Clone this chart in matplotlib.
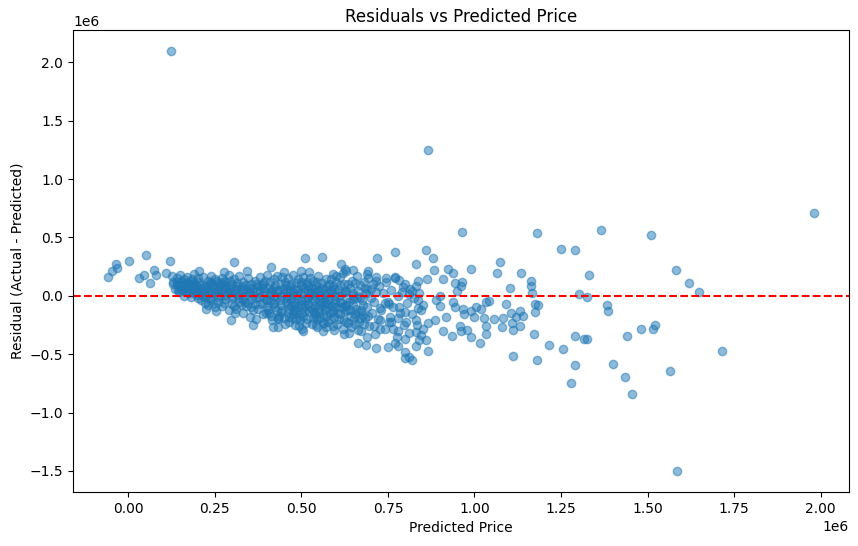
import numpy as np
import matplotlib
matplotlib.use("Agg")
import matplotlib.pyplot as plt

# (predicted, residual) pairs, both in units of 1e6

# far outliers
outliers = [(0.122, 2.096), (0.867, 1.245), (1.98, 0.707), (1.585, -1.50),
            (1.715, -0.474), (1.566, -0.64), (1.455, -0.84), (1.435, -0.695),
            (1.28, -0.745)]

# sparse points right of 1.0e6
right_tail = [(1.181, 0.535), (1.366, 0.563), (1.51, 0.521), (1.25, 0.398),
              (1.291, 0.392), (1.073, 0.286), (1.066, 0.192), (1.135, 0.192),
              (1.163, 0.126), (1.163, 0.083), (1.102, 0.063), (1.165, 0.02),
              (1.331, 0.175), (1.302, 0.015), (1.324, -0.014), (1.383, -0.08),
              (1.386, -0.131), (1.034, -0.051), (1.042, -0.045), (1.092, -0.071),
              (1.174, -0.071), (1.184, -0.08), (1.174, -0.142), (1.018, -0.117),
              (1.0, -0.18), (1.027, -0.188), (1.056, -0.202), (1.081, -0.188),
              (1.105, -0.151), (1.131, -0.131), (1.14, -0.171), (1.121, -0.18),
              (1.109, -0.237), (1.08, -0.266), (1.131, -0.257), (1.111, -0.294),
              (1.032, -0.26), (1.032, -0.323), (1.015, -0.4), (1.172, -0.323),
              (1.215, -0.417), (1.256, -0.457), (1.291, -0.343), (1.317, -0.366),
              (1.324, -0.371), (1.441, -0.346), (1.481, -0.288), (1.515, -0.288),
              (1.522, -0.254), (1.111, -0.517), (1.181, -0.551), (1.291, -0.594),
              (1.401, -0.58), (1.582, 0.22), (1.621, 0.111), (1.65, 0.034)]

# points between 0.7e6 and 1.0e6
mid_spread = [(0.964, 0.544), (0.769, 0.375), (0.718, 0.32), (0.861, 0.392),
              (0.88, 0.32), (0.832, 0.269), (0.613, 0.269), (0.625, 0.226),
              (0.62, 0.192), (0.691, 0.214), (0.689, 0.186), (0.883, 0.218),
              (0.922, 0.226), (0.938, 0.192), (0.989, 0.226), (0.965, 0.117),
              (0.943, 0.106), (0.863, 0.141), (0.836, 0.126), (0.769, 0.163),
              (0.783, 0.135), (0.793, 0.077), (0.745, 0.149), (0.716, 0.158),
              (0.812, 0.015), (0.836, -0.037), (0.851, -0.08), (0.836, -0.108),
              (0.89, -0.037), (0.899, -0.088), (0.938, -0.051), (0.943, -0.094),
              (0.967, -0.117), (0.991, -0.129), (1.005, -0.1), (0.918, -0.18),
              (0.885, -0.208), (0.865, -0.237), (0.832, -0.208), (0.803, -0.223),
              (0.779, -0.194), (0.754, -0.223), (0.726, -0.208), (0.711, -0.26),
              (0.726, -0.28), (0.764, -0.28), (0.909, -0.303), (0.936, -0.346),
              (0.977, -0.294), (0.991, -0.351), (0.957, -0.26), (0.832, -0.309),
              (0.846, -0.337), (0.861, -0.38), (0.798, -0.366), (0.769, -0.408),
              (0.75, -0.437), (0.716, -0.451), (0.687, -0.423), (0.663, -0.4),
              (0.504, -0.303), (0.624, -0.323), (0.595, -0.294), (0.562, -0.237),
              (0.634, -0.237), (0.677, -0.166), (0.726, -0.108), (0.754, -0.066),
              (0.783, -0.094), (0.542, -0.18), (0.465, -0.18), (0.509, 0.32),
              (0.865, -0.47), (0.83, -0.43), (0.80, -0.48), (0.81, -0.52),
              (0.82, -0.55), (0.80, -0.53), (0.78, -0.43), (0.96, 0.08),
              (0.95, 0.04), (0.90, 0.0), (0.91, 0.14), (0.97, -0.16), (0.96, -0.30)]

# upper edge and left end of the main cloud
left_edge = [(-0.058, 0.158), (-0.048, 0.214), (-0.036, 0.27), (-0.033, 0.235),
             (0.002, 0.295), (0.052, 0.349), (0.031, 0.149), (0.045, 0.178),
             (0.063, 0.106), (0.074, 0.22), (0.079, 0.178), (0.121, 0.295),
             (0.108, 0.192), (0.306, 0.286), (0.203, 0.212), (0.275, 0.20),
             (0.342, 0.212), (0.412, 0.244), (0.224, -0.117), (0.253, -0.129),
             (0.296, -0.208), (0.359, -0.254), (0.417, -0.271), (0.431, -0.266),
             (0.433, -0.186), (0.398, -0.151), (0.309, -0.146), (0.45, 0.2),
             (0.5, 0.21), (0.56, 0.33), (0.60, 0.17), (0.65, 0.22)]

band_a = [(0.125, 0.17), (0.13, 0.12), (0.135, 0.06), (0.14, 0.15), (0.14, 0.09),
          (0.145, 0.03), (0.15, 0.18), (0.15, 0.11), (0.155, 0.05), (0.16, 0.14),
          (0.16, 0.0), (0.165, 0.08), (0.17, 0.16), (0.17, 0.04), (0.175, 0.1),
          (0.18, 0.13), (0.18, -0.01), (0.185, 0.06), (0.19, 0.19), (0.19, 0.02),
          (0.195, 0.09), (0.2, 0.15), (0.2, -0.02), (0.13, 0.1), (0.15, 0.07),
          (0.17, 0.12), (0.19, 0.11), (0.14, 0.12), (0.16, 0.07), (0.18, 0.09),
          (0.2, 0.05), (0.155, 0.13), (0.175, 0.02), (0.195, 0.04), (0.165, 0.1),
          (0.185, 0.14)]

band_b = [(0.205, 0.12), (0.21, 0.03), (0.21, -0.04), (0.215, 0.16), (0.22, 0.08),
          (0.22, -0.06), (0.225, 0.01), (0.23, 0.13), (0.23, -0.08), (0.235, 0.05),
          (0.24, 0.17), (0.24, -0.02), (0.245, 0.09), (0.25, 0.14), (0.25, -0.1),
          (0.255, 0.04), (0.26, 0.11), (0.26, -0.05), (0.265, 0.0), (0.27, 0.15),
          (0.27, -0.09), (0.275, 0.07), (0.28, 0.12), (0.28, -0.03), (0.285, 0.02),
          (0.29, 0.18), (0.29, -0.12), (0.295, 0.06), (0.3, 0.1), (0.3, -0.07),
          (0.21, 0.07), (0.23, 0.09), (0.25, 0.02), (0.27, 0.1), (0.29, 0.03),
          (0.22, -0.01), (0.24, 0.12), (0.26, 0.06), (0.28, 0.08), (0.3, 0.0),
          (0.215, 0.0), (0.235, -0.04), (0.255, 0.13), (0.275, -0.06), (0.295, 0.13)]

band_c = [(0.305, 0.14), (0.31, 0.02), (0.31, -0.11), (0.315, 0.08), (0.32, 0.17),
          (0.32, -0.05), (0.325, 0.05), (0.33, 0.12), (0.33, -0.15), (0.335, 0.0),
          (0.34, 0.09), (0.34, -0.09), (0.345, 0.15), (0.35, 0.03), (0.35, -0.18),
          (0.355, 0.1), (0.36, 0.06), (0.36, -0.12), (0.365, 0.13), (0.37, -0.02),
          (0.37, -0.2), (0.375, 0.08), (0.38, 0.16), (0.38, -0.07), (0.385, 0.01),
          (0.39, 0.11), (0.39, -0.16), (0.395, 0.04), (0.4, 0.18), (0.4, -0.1),
          (0.405, 0.07), (0.41, 0.12), (0.41, -0.04), (0.415, -0.21), (0.42, 0.14),
          (0.42, 0.0), (0.425, 0.09), (0.43, 0.17), (0.43, -0.13), (0.435, 0.05),
          (0.44, 0.1), (0.44, -0.08), (0.445, 0.16), (0.45, 0.02), (0.45, -0.19),
          (0.31, 0.06), (0.33, -0.03), (0.35, 0.07), (0.37, 0.1), (0.39, -0.06),
          (0.41, 0.03), (0.43, -0.01), (0.32, -0.02), (0.34, 0.04), (0.36, 0.01),
          (0.38, 0.05), (0.4, -0.04), (0.42, 0.07), (0.44, 0.0), (0.315, 0.11),
          (0.345, -0.06), (0.375, -0.11), (0.405, -0.15), (0.435, -0.17)]

band_d = [(0.452, 0.12), (0.455, -0.05), (0.458, 0.04), (0.46, -0.15), (0.462, 0.15),
          (0.465, -0.22), (0.468, 0.08), (0.47, -0.09), (0.472, 0.01), (0.475, 0.18),
          (0.478, -0.12), (0.48, 0.06), (0.482, -0.25), (0.485, 0.11), (0.488, -0.03),
          (0.49, 0.14), (0.492, -0.18), (0.495, 0.02), (0.498, 0.09), (0.5, -0.07),
          (0.502, -0.28), (0.505, 0.16), (0.508, 0.03), (0.51, -0.13), (0.512, 0.1),
          (0.515, -0.2), (0.518, 0.05), (0.52, -0.01), (0.522, 0.2), (0.525, -0.1),
          (0.528, 0.07), (0.53, -0.24), (0.532, 0.13), (0.535, -0.04), (0.538, 0.0),
          (0.54, -0.16), (0.542, 0.09), (0.545, -0.27), (0.548, 0.17), (0.55, -0.08),
          (0.552, 0.04), (0.555, -0.19), (0.558, 0.11), (0.56, -0.02), (0.562, -0.3),
          (0.565, 0.06), (0.568, -0.12), (0.57, 0.14), (0.572, -0.06), (0.575, 0.02),
          (0.578, -0.22), (0.58, 0.1), (0.582, -0.15), (0.585, 0.05), (0.588, -0.09),
          (0.59, 0.19), (0.592, -0.26), (0.595, 0.0), (0.598, -0.04), (0.6, 0.12),
          (0.46, 0.0), (0.47, 0.1), (0.48, -0.06), (0.49, 0.05), (0.5, 0.12),
          (0.51, -0.04), (0.52, 0.08), (0.53, -0.11), (0.54, 0.03), (0.55, -0.14),
          (0.56, 0.07), (0.57, -0.17), (0.58, -0.03), (0.59, 0.08), (0.6, -0.1),
          (0.465, -0.11), (0.485, -0.14), (0.505, -0.17), (0.525, 0.15), (0.545, 0.12),
          (0.565, -0.23), (0.585, 0.14), (0.475, 0.03), (0.495, -0.21), (0.515, -0.02),
          (0.535, 0.06), (0.555, 0.0), (0.575, -0.1), (0.595, -0.18)]

band_e = [(0.605, 0.05), (0.608, -0.2), (0.612, 0.16), (0.615, -0.06), (0.618, 0.02),
          (0.62, -0.28), (0.623, 0.1), (0.626, -0.13), (0.63, 0.21), (0.633, -0.02),
          (0.636, -0.32), (0.64, 0.07), (0.643, -0.17), (0.646, 0.13), (0.65, -0.08),
          (0.653, 0.0), (0.656, -0.24), (0.66, 0.17), (0.663, 0.04), (0.666, -0.14),
          (0.67, 0.09), (0.673, -0.3), (0.676, -0.04), (0.68, 0.12), (0.683, -0.19),
          (0.686, 0.02), (0.69, -0.1), (0.693, 0.15), (0.696, -0.26), (0.7, 0.06),
          (0.703, -0.15), (0.706, 0.1), (0.71, -0.05), (0.713, -0.33), (0.716, 0.03),
          (0.72, -0.2), (0.61, 0.09), (0.625, -0.09), (0.64, -0.12), (0.655, 0.11),
          (0.67, -0.19), (0.685, 0.07), (0.7, -0.02), (0.715, 0.13), (0.63, -0.22),
          (0.66, -0.02), (0.69, -0.35)]

band_f = [(0.725, 0.08), (0.73, -0.12), (0.735, 0.02), (0.74, -0.28), (0.745, 0.12),
          (0.75, -0.05), (0.755, -0.18), (0.76, 0.05), (0.765, -0.1), (0.77, 0.15),
          (0.775, -0.35), (0.78, 0.0), (0.785, -0.15), (0.79, 0.03), (0.795, -0.25),
          (0.8, 0.1), (0.805, -0.06), (0.81, -0.32), (0.815, 0.06), (0.82, -0.16),
          (0.825, -0.02), (0.83, 0.08), (0.835, -0.25), (0.84, 0.02), (0.845, -0.12),
          (0.85, -0.28), (0.74, -0.06), (0.76, -0.22), (0.78, -0.3), (0.8, -0.14),
          (0.82, 0.04), (0.84, -0.38)]

# extra points filling the densest part of the cloud
band_core = [(0.142, 0.05), (0.158, 0.09), (0.168, 0.03), (0.178, 0.07), (0.188, 0.1),
             (0.198, 0.01), (0.208, 0.09), (0.218, 0.04), (0.228, 0.06), (0.238, 0.02),
             (0.248, 0.06), (0.258, -0.01), (0.268, 0.05), (0.278, 0.01), (0.288, 0.08),
             (0.298, -0.02), (0.308, 0.05), (0.318, 0.01), (0.328, 0.08), (0.338, -0.05),
             (0.348, 0.02), (0.358, -0.03), (0.368, 0.04), (0.378, -0.01), (0.388, 0.07),
             (0.398, -0.03), (0.408, 0.01), (0.418, -0.07), (0.428, 0.04), (0.438, -0.04),
             (0.448, 0.06), (0.458, -0.02), (0.468, 0.05), (0.478, -0.08), (0.488, 0.01),
             (0.498, -0.04), (0.508, 0.07), (0.518, -0.07), (0.528, 0.02), (0.538, -0.09),
             (0.548, 0.05), (0.558, -0.05), (0.568, 0.01), (0.578, -0.07), (0.588, 0.03),
             (0.598, -0.06), (0.608, 0.0), (0.618, -0.1), (0.628, 0.04), (0.638, -0.05),
             (0.648, 0.02), (0.658, -0.11), (0.668, -0.01), (0.678, -0.08), (0.688, 0.05),
             (0.235, 0.1), (0.265, 0.08), (0.295, 0.03), (0.325, -0.08), (0.355, -0.1),
             (0.385, 0.09), (0.415, 0.05), (0.445, -0.12), (0.475, -0.16), (0.505, -0.1),
             (0.535, -0.14), (0.565, -0.08), (0.595, 0.06), (0.625, 0.03), (0.655, -0.16),
             (0.245, -0.06), (0.275, 0.13), (0.305, -0.09), (0.335, 0.06), (0.365, -0.07),
             (0.395, 0.13), (0.425, -0.1), (0.455, 0.09), (0.485, -0.2), (0.515, 0.12),
             (0.545, -0.2), (0.575, 0.08), (0.605, -0.15), (0.635, 0.1), (0.665, -0.22)]

# lower half of the cloud between 0.4e6 and 0.7e6
band_low = [(0.402, -0.12), (0.412, -0.17), (0.422, -0.06), (0.432, -0.2), (0.442, -0.14),
            (0.452, -0.24), (0.462, -0.07), (0.472, -0.19), (0.482, -0.11), (0.492, -0.26),
            (0.502, -0.15), (0.512, -0.23), (0.522, -0.13), (0.532, -0.19), (0.542, -0.25),
            (0.552, -0.11), (0.562, -0.16), (0.572, -0.27), (0.582, -0.2), (0.592, -0.12),
            (0.602, -0.24), (0.612, -0.16), (0.622, -0.21), (0.632, -0.12), (0.642, -0.27),
            (0.652, -0.19), (0.662, -0.29), (0.672, -0.12), (0.682, -0.24), (0.692, -0.17),
            (0.47, -0.03), (0.49, -0.1), (0.51, -0.08), (0.53, -0.02), (0.55, -0.05),
            (0.57, -0.01), (0.59, -0.14), (0.61, -0.05), (0.63, -0.08), (0.65, -0.03)]

groups = [outliers, right_tail, mid_spread, left_edge, band_a, band_b,
          band_c, band_d, band_e, band_f, band_core, band_low]
pts = np.array([p for g in groups for p in g]) * 1e6
predicted = pts[:, 0]
residuals = pts[:, 1]

fig = plt.figure(figsize=(8.58, 5.46), dpi=100)
ax = fig.add_axes([73 / 858, 54 / 546, 776 / 858, 462 / 546])
ax.scatter(predicted, residuals, alpha=0.5)
ax.axhline(0, color="red", linestyle="--")
ax.set_xlabel("Predicted Price")
ax.set_ylabel("Residual (Actual - Predicted)")
ax.set_title("Residuals vs Predicted Price")

fig.savefig("out.png", dpi=100)
